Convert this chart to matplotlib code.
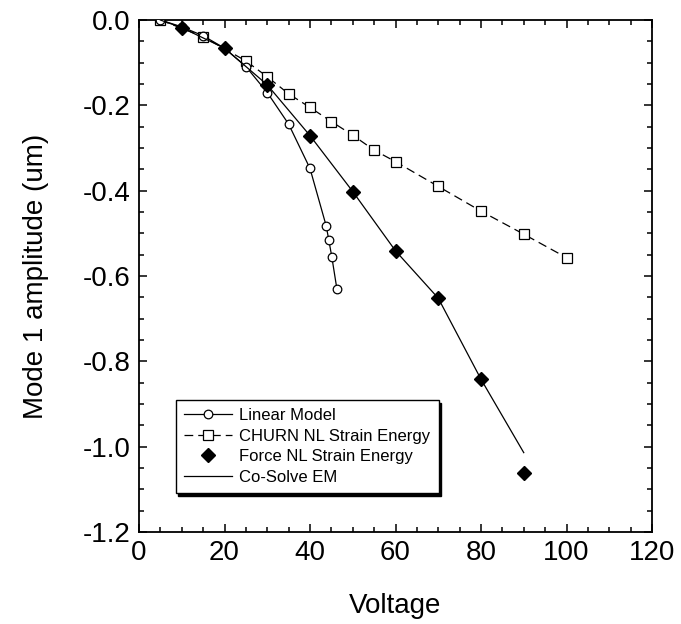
import matplotlib
matplotlib.use("Agg")
import matplotlib.pyplot as plt
from matplotlib.ticker import MultipleLocator, FormatStrFormatter

plt.rcParams['font.family'] = ['Liberation Sans', 'DejaVu Sans']
plt.rcParams['axes.unicode_minus'] = False

# Linear Model (circles)
lin_x = [5, 10, 15, 20, 25, 30, 35, 40, 43.8, 44.4, 45.1, 46.3]
lin_y = [0.0, -0.016, -0.037, -0.066, -0.109, -0.170, -0.244, -0.348, -0.483, -0.516, -0.555, -0.631]

# CHURN NL Strain Energy (squares, dashed)
churn_x = [5, 15, 25, 30, 35, 40, 45, 50, 55, 60, 70, 80, 90, 100]
churn_y = [0.0, -0.039, -0.096, -0.133, -0.173, -0.205, -0.238, -0.270, -0.305, -0.332, -0.390, -0.448, -0.502, -0.557]

# Force NL Strain Energy (filled diamonds)
force_x = [10, 20, 30, 40, 50, 60, 70, 80, 90]
force_y = [-0.018, -0.066, -0.152, -0.271, -0.402, -0.541, -0.652, -0.842, -1.062]

# Co-Solve EM (solid line)
cosolve_x = [5, 10, 20, 30, 40, 50, 60, 70, 80, 90]
cosolve_y = [0.0, -0.018, -0.066, -0.152, -0.271, -0.402, -0.541, -0.652, -0.842, -1.014]

fig = plt.figure(figsize=(6.81, 6.24), dpi=100)
ax = fig.add_axes([139/681, 1-532/624, (652-139)/681, (532-20)/624])

ax.plot(lin_x, lin_y, color='black', lw=0.9, marker='o', ms=6.2, mfc='white',
        mec='black', mew=0.9, label='Linear Model', zorder=3)
ax.plot(churn_x, churn_y, color='black', lw=0.9, ls=(0, (7, 4)), marker='s', ms=6.5,
        mfc='white', mec='black', mew=0.9, label='CHURN NL Strain Energy', zorder=2)
ax.plot(force_x, force_y, ls='none', marker='D', ms=7.2, mfc='black', mec='black',
        label='Force NL Strain Energy', zorder=4)
ax.plot(cosolve_x, cosolve_y, color='black', lw=0.9, label='Co-Solve EM', zorder=3)

ax.set_xlim(0, 120)
ax.set_ylim(-1.2, 0.0)
ax.xaxis.set_major_locator(MultipleLocator(20))
ax.xaxis.set_minor_locator(MultipleLocator(5))
ax.yaxis.set_major_locator(MultipleLocator(0.2))
ax.yaxis.set_minor_locator(MultipleLocator(0.05))
ax.yaxis.set_major_formatter(FormatStrFormatter('%.1f'))

ax.tick_params(which='both', direction='in', top=True, right=True, width=1.1)
ax.tick_params(which='major', length=6, labelsize=20, pad=6)
ax.tick_params(which='minor', length=3.6)
for s in ax.spines.values():
    s.set_linewidth(1.3)

ax.set_xlabel('Voltage', fontsize=20, labelpad=19)
ax.set_ylabel('Mode 1 amplitude (um)', fontsize=20, labelpad=24)

leg = ax.legend(loc='lower left', bbox_to_anchor=(0.055, 0.06), fontsize=12,
                frameon=True, fancybox=False, edgecolor='black', framealpha=1,
                numpoints=1, handlelength=2.9, handletextpad=0.42,
                labelspacing=0.33, borderpad=0.5,
                shadow={'color': 'black', 'alpha': 1})
leg.get_frame().set_linewidth(1.0)

fig.savefig('out.png', dpi=100)
